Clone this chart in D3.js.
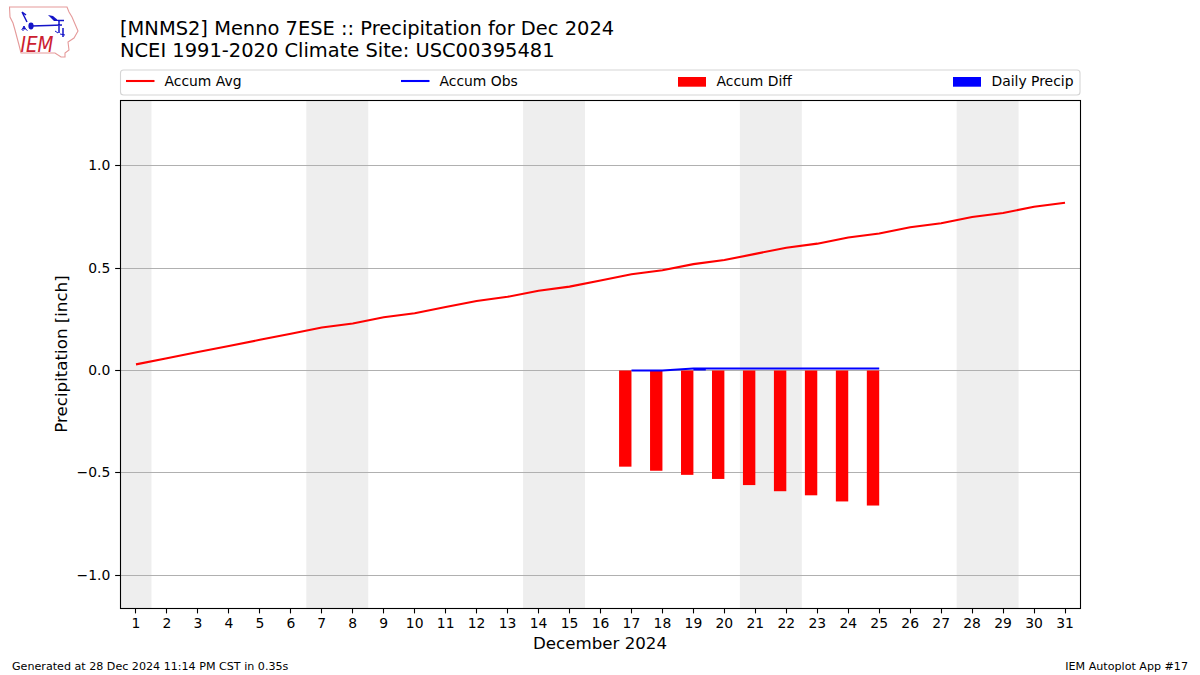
<!DOCTYPE html>
<html><head><meta charset="utf-8">
<script src="https://cdn.jsdelivr.net/npm/d3@7/dist/d3.min.js"></script>
<style>html,body{margin:0;padding:0;background:#fff}svg{display:block}text{font-family:"DejaVu Sans",sans-serif;fill:#000}</style>
</head><body><svg id="c" width="1200" height="675"></svg>
<script>
const days = d3.range(1, 32);
const accumAvg = [0.03,0.06,0.09,0.12,0.15,0.18,0.21,0.23,0.26,0.28,0.31,0.34,0.36,0.39,0.41,0.44,0.47,0.49,0.52,0.54,0.57,0.60,0.62,0.65,0.67,0.70,0.72,0.75,0.77,0.80,0.82];
const obsDays = [17,18,19,20,21,22,23,24,25];
const accumObs = [0,0,0.01,0.01,0.01,0.01,0.01,0.01,0.01];
const accumDiff = [-0.47,-0.49,-0.51,-0.53,-0.56,-0.59,-0.61,-0.64,-0.66];
const dailyPrecip = [0,0,0.01,0,0,0,0,0,0];
const weekendSpans = [[0.5,1.5],[6.5,8.5],[13.5,15.5],[20.5,22.5],[27.5,29.5]];
const yTicks = [-1,-0.5,0,0.5,1];
const titleLines = ["[MNMS2] Menno 7ESE :: Precipitation for Dec 2024","NCEI 1991-2020 Climate Site: USC00395481"];
const legendItems = ["Accum Avg","Accum Obs","Accum Diff","Daily Precip"];

const svg = d3.select("#c");
const L=120,R=1080,T=100,B=608;
const x = d3.scaleLinear().domain([0.5,31.5]).range([L+0.5,R+0.5]);
const y = d3.scaleLinear().domain([1.3221,-1.1608]).range([T,B]);
const snap = v => Math.floor(v)+0.5;
const barW = 0.4;

const plot = svg.append("g");
plot.selectAll("rect.w").data(weekendSpans).join("rect").attr("class","w")
  .attr("x",d=>x(d[0])).attr("width",d=>x(d[1])-x(d[0])).attr("y",T).attr("height",B-T).attr("fill","#eeeeee");

plot.append("g").selectAll("line").data(yTicks).join("line")
  .attr("x1",L).attr("x2",R).attr("y1",d=>snap(y(d))).attr("y2",d=>snap(y(d)))
  .attr("stroke","#b0b0b0").attr("stroke-width",1.1);

// Bars: diff sits left of the day, daily precip right of it
plot.selectAll("rect.diff").data(obsDays).join("rect").attr("class","diff")
  .attr("x",d=>x(d-barW)).attr("width",d=>x(d)-x(d-barW))
  .attr("y",y(0)).attr("height",(d,i)=>y(accumDiff[i])-y(0)).attr("fill","#ff0000");
plot.selectAll("rect.daily").data(obsDays).join("rect").attr("class","daily")
  .attr("x",d=>x(d)).attr("width",d=>x(d+barW)-x(d))
  .attr("y",(d,i)=>y(dailyPrecip[i])).attr("height",(d,i)=>y(0)-y(dailyPrecip[i])).attr("fill","#0000ff");

const line = d3.line().x(d=>x(d[0])).y(d=>y(d[1]));
plot.append("path").attr("d",line(days.map((d,i)=>[d,accumAvg[i]]))).attr("fill","none").attr("stroke","#ff0000").attr("stroke-width",2.08);
plot.append("path").attr("d",line(obsDays.map((d,i)=>[d,accumObs[i]]))).attr("fill","none").attr("stroke","#0000ff").attr("stroke-width",2.08);

// Axes
const ax = svg.append("g").attr("transform",`translate(0,${B})`)
  .call(d3.axisBottom(x).tickValues(days).tickFormat(d3.format("d")).tickSize(5.4).tickPadding(4.8).offset(0));
const ay = svg.append("g").attr("transform",`translate(${L},0)`)
  .call(d3.axisLeft(y).tickValues(yTicks).tickFormat(d=>(d<0?"\u2212":"")+Math.abs(d).toFixed(1)).tickSize(4.86).tickPadding(4.8).offset(0));
[ax,ay].forEach(g=>{g.select(".domain").remove();
  g.selectAll("line").attr("stroke","#000").attr("stroke-width",1.1);
  g.selectAll("text").attr("font-size","13.9px").attr("font-family",'"DejaVu Sans"').attr("fill","#000");});
ax.selectAll(".tick line").attr("x1",d=>snap(x(d))-x(d)).attr("x2",d=>snap(x(d))-x(d));
ay.selectAll(".tick line").attr("y1",d=>snap(y(d))-y(d)).attr("y2",d=>snap(y(d))-y(d));
svg.append("rect").attr("x",L+0.5).attr("y",T+0.5).attr("width",R-L).attr("height",B-T).attr("fill","none").attr("stroke","#000").attr("stroke-width",1.1);

// Labels
svg.append("text").attr("x",600).attr("y",649).attr("text-anchor","middle").attr("font-size","16.67px").text("December 2024");
svg.append("text").attr("transform",`translate(67,354) rotate(-90)`).attr("text-anchor","middle").attr("font-size","16.67px").text("Precipitation [inch]");
svg.selectAll("text.t").data(titleLines).join("text").attr("class","t").attr("x",120).attr("y",(d,i)=>35+i*22)
  .attr("font-size","19.45px").text(d=>d);
svg.append("text").attr("x",12).attr("y",670).attr("font-size","11.12px").text("Generated at 28 Dec 2024 11:14 PM CST in 0.35s");
svg.append("text").attr("x",1188).attr("y",670).attr("text-anchor","end").attr("font-size","11.12px").text("IEM Autoplot App #17");

// Legend
const lg = svg.append("g");
lg.append("rect").attr("x",120.5).attr("y",70).attr("width",959.5).attr("height",25).attr("rx",3)
  .attr("fill","#fff").attr("stroke","#d5d5d5").attr("stroke-width",1.1);
const handleX=[126,401,678,953], legendColors=["#ff0000","#0000ff","#ff0000","#0000ff"];
legendItems.forEach((t,i)=>{
  if(i<2) lg.append("line").attr("x1",handleX[i]).attr("x2",handleX[i]+28.5).attr("y1",81).attr("y2",81).attr("stroke",legendColors[i]).attr("stroke-width",2.08);
  else lg.append("rect").attr("x",handleX[i]).attr("y",77).attr("width",28).attr("height",9.7).attr("fill",legendColors[i]);
  lg.append("text").attr("x",handleX[i]+38.5).attr("y",86).attr("font-size","13.9px").text(t);
});

// IEM logo
const logo = svg.append("g");
logo.append("path").attr("d","M9.5 7 L67 7 L69 12 L72 17 L75 24 L78 31 L74 38 L68 42 L69 50 L65 53 L65 57 L61 57 L55 53 L21 53 L19 45 L15 30 L13 23 L10 17 Z")
  .attr("fill","#fff").attr("stroke","#e59a9a").attr("stroke-width",1.1);
const bl="#1414c8";
logo.append("path").attr("d","M31 26 L48 25.5 L62 25 M59 21 L59 33 M58 20.5 L64 20.5 M27 22 L22 12 M22 12 L26 15 M63 28 L63 37")
  .attr("fill","none").attr("stroke",bl).attr("stroke-width",1.5);
logo.append("path").attr("d","M48 15 L53 16 L59 21 L54 21 Z").attr("fill",bl);
logo.append("ellipse").attr("cx",31).attr("cy",26).attr("rx",2.6).attr("ry",3.4).attr("fill",bl);
logo.append("path").attr("d","M24 26 L25.5 29 L22.5 29 Z M21.5 29 L23.5 31 M25.5 29 L27.5 30.5 M55 31 L58 33 M60 34 L65 35").attr("fill",bl).attr("stroke",bl).attr("stroke-width",1);
logo.append("text").attr("x",20.5).attr("y",52).attr("font-family",'"Liberation Serif",serif').attr("font-style","italic").attr("font-size","21px").attr("textLength",33).attr("lengthAdjust","spacingAndGlyphs").style("fill","#cc2030").text("IEM");
</script></body></html>
